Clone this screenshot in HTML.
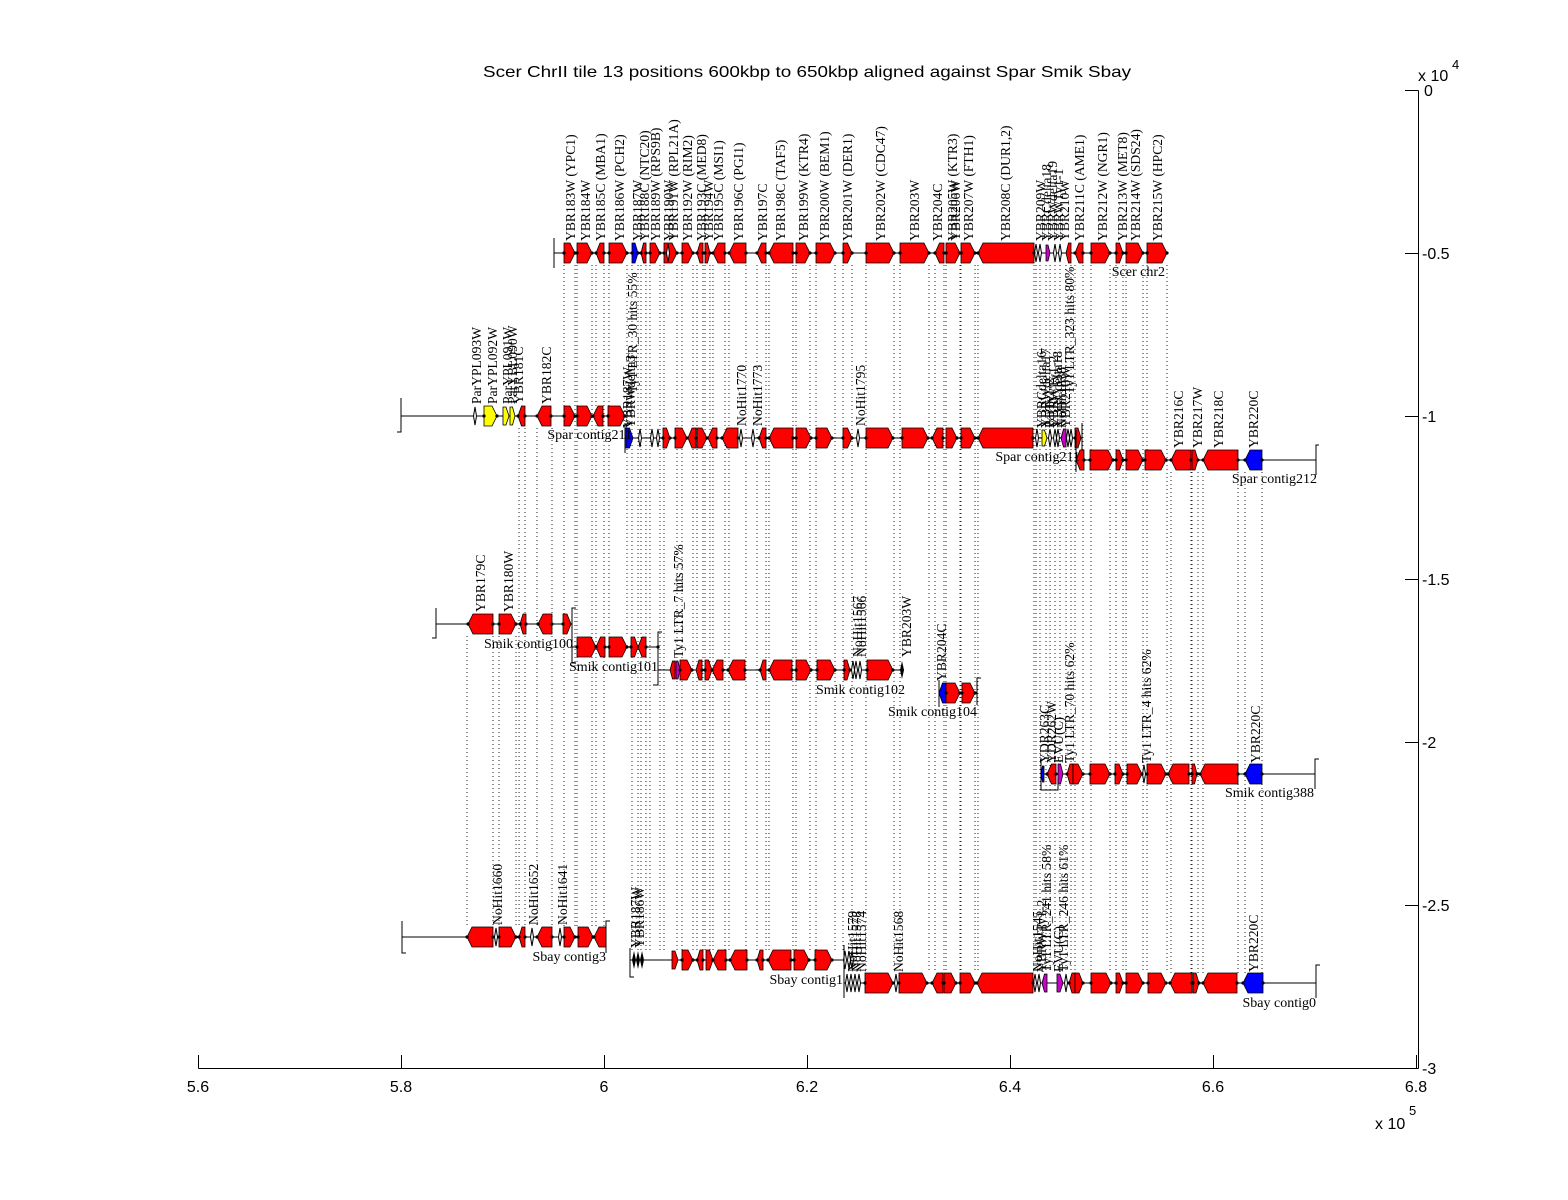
<!DOCTYPE html>
<html><head><meta charset="utf-8"><style>
html,body{margin:0;padding:0;background:#fff}
svg{display:block}
.r{fill:#f00;stroke:#000;stroke-width:.8}
.b{fill:#00f;stroke:#000;stroke-width:.8}
.y{fill:#ff0;stroke:#000;stroke-width:.8}
.p{fill:#c0c;stroke:#000;stroke-width:.8}
.m{fill:#fff;stroke:#000;stroke-width:1}
.k{fill:none;stroke:#000;stroke-width:1}
.d{fill:none;stroke:#000;stroke-width:3.2;stroke-linecap:round}
.lb text{font-family:"Liberation Serif",serif;font-size:13.6px;fill:#000}
.ct{font-family:"Liberation Serif",serif;font-size:14px;fill:#000;text-anchor:end}
.ax{font-family:"Liberation Sans",sans-serif;font-size:16px;fill:#000}
</style></head><body>
<svg width="1568" height="1200" viewBox="0 0 1568 1200" xmlns="http://www.w3.org/2000/svg">
<rect width="1568" height="1200" fill="#fff"/>

<!-- dotted connection lines -->
<path fill="none" stroke="#222" stroke-width="1" stroke-dasharray="1 3" d="
M564 265V927M575 265V927M577 265V927M592 265V927M596 265V927M604 265V927
M609 265V637M627 265V637
M632 265V950M638 265V950M641 265V950M646 265V950M650 265V950M660 265V950M664 265V950M677 265V950M682 265V950M693 265V950M697 265V950M703 265V950M705 265V950M710 265V950M713 265V950M725 265V950M729 265V950M746 265V950M757 265V950M766 265V950M769 265V950M793 265V950M796 265V950M810 265V950M816 265V950M835 265V950M843 265V950M852 265V950
M866 265V973M894 265V973M900 265V973M929 265V973M935 265V973M944 265V973M946 265V973M960 265V973M961 265V973M975 265V973M978 265V973M1034 265V973M1036 265V973M1040 265V973M1046 265V973M1050 265V973M1055 265V973M1060 265V973M1066 265V973M1071 265V973M1075 265V973M1083 265V973M1091 265V973M1110 265V973M1116 265V973M1123 265V973M1126 265V973M1143 265V973M1147 265V973M1167 265V973
M519 428V927M525 428V927M537 428V927M552 428V927
M467 636V927M493 636V927M499 636V927M516 636V927
M1171 472V973M1191 472V973M1192 472V973M1198 472V973M1203 472V973M1238 472V973M1245 472V973M1262 472V973
"/>

<!-- Scer chr2 -->
<g transform="translate(0,253)">
<path class="k" d="M554 0H1168M554 -15V15"/>
<path class="r" d="M564 -10H570L575 0L570 10H564Z"/>
<path class="r" d="M577 -10H587L592 0L587 10H577Z"/>
<path class="r" d="M596 0L600 -10H604V10H600Z"/>
<path class="r" d="M609 -10H622L627 0L622 10H609Z"/>
<path class="b" d="M632 -10H635L638 0L635 10H632Z"/>
<path class="r" d="M641 0L643.5 -10H646V10H643.5Z"/>
<path class="r" d="M650 -10H655L660 0L655 10H650Z"/>
<path class="r" d="M664 -10H672L677 0L672 10H664Z"/>
<path class="m" d="M668 -9l1.5 9l-1.5 9l-1.5 -9z"/>
<path class="r" d="M682 -10H688L693 0L688 10H682Z"/>
<path class="r" d="M697 0L700 -10H703V10H700Z"/>
<path class="r" d="M705 -10H707.5L710 0L707.5 10H705Z"/>
<path class="r" d="M713 0L718 -10H725V10H718Z"/>
<path class="r" d="M729 0L734 -10H746V10H734Z"/>
<path class="r" d="M757 0L761.5 -10H766V10H761.5Z"/>
<path class="r" d="M769 0L774 -10H793V10H774Z"/>
<path class="r" d="M796 -10H805L810 0L805 10H796Z"/>
<path class="r" d="M816 -10H830L835 0L830 10H816Z"/>
<path class="r" d="M843 -10H847.5L852 0L847.5 10H843Z"/>
<path class="r" d="M866 -10H889L894 0L889 10H866Z"/>
<path class="r" d="M900 -10H924L929 0L924 10H900Z"/>
<path class="r" d="M935 0L939.5 -10H944V10H939.5Z"/>
<path class="r" d="M946 -10H955L960 0L955 10H946Z"/>
<path class="r" d="M961 -10H970L975 0L970 10H961Z"/>
<path class="r" d="M978 0L983 -10H1034V10H983Z"/>
<path class="m" d="M1036 -9l1.5 9l-1.5 9l-1.5 -9zM1040 -9l1.5 9l-1.5 9l-1.5 -9zM1055 -9l1.5 9l-1.5 9l-1.5 -9zM1060 -9l1.5 9l-1.5 9l-1.5 -9z"/>
<path class="p" d="M1046 -8H1048L1050 0L1048 8H1046Z"/>
<path class="r" d="M1066 0L1068.5 -10H1071V10H1068.5Z"/>
<path class="r" d="M1075 0L1079 -10H1083V10H1079Z"/>
<path class="r" d="M1091 -10H1105L1110 0L1105 10H1091Z"/>
<path class="r" d="M1116 -10H1119.5L1123 0L1119.5 10H1116Z"/>
<path class="r" d="M1126 -10H1138L1143 0L1138 10H1126Z"/>
<path class="r" d="M1147 -10H1162L1167 0L1162 10H1147Z"/>
<path class="d" d="M564 0h0M575 0h0M577 0h0M592 0h0M596 0h0M604 0h0M609 0h0M627 0h0M632 0h0M638 0h0M641 0h0M646 0h0M650 0h0M660 0h0M664 0h0M677 0h0M682 0h0M693 0h0M697 0h0M703 0h0M705 0h0M710 0h0M713 0h0M725 0h0M729 0h0M746 0h0M757 0h0M766 0h0M769 0h0M793 0h0M796 0h0M810 0h0M816 0h0M835 0h0M843 0h0M852 0h0M866 0h0M894 0h0M900 0h0M929 0h0M935 0h0M944 0h0M946 0h0M960 0h0M961 0h0M975 0h0M978 0h0M1034 0h0M1075 0h0M1083 0h0M1091 0h0M1110 0h0M1116 0h0M1123 0h0M1126 0h0M1143 0h0M1147 0h0M1167 0h0"/>
</g>

<!-- Spar contig211 (a) -->
<g transform="translate(0,416)">
<path class="k" d="M401 0H628M401 -18V16H397"/>
<path class="m" d="M475 -9l1.5 9l-1.5 9l-1.5 -9z"/>
<path class="y" d="M484 -10H492L497 0L492 10H484Z"/>
<path class="y" d="M503 -9H506L509 0L506 9H503Z"/>
<path class="y" d="M510 -9H512.5L515 0L512.5 9H510Z"/>
<path class="r" d="M518 0L521.5 -10H525V10H521.5Z"/>
<path class="r" d="M537 0L542 -10H551V10H542Z"/>
<path class="r" d="M564 -10H570L575 0L570 10H564Z"/>
<path class="r" d="M577 -10H587L592 0L587 10H577Z"/>
<path class="r" d="M593 0L598 -10H603V10H598Z"/>
<path class="r" d="M608 -10H620L625 0L620 10H608Z"/>
<path class="d" d="M484 0h0M497 0h0M518 0h0M525 0h0M537 0h0M551 0h0M564 0h0M575 0h0M577 0h0M592 0h0M593 0h0M603 0h0M608 0h0M625 0h0"/>
</g>

<!-- Spar contig211 (b) -->
<g transform="translate(0,438)">
<path class="k" d="M625 0H1082M625 -15V15M1082 -15V32"/>
<path class="b" d="M626 -10H629.5L633 0L629.5 10H626Z"/>
<path class="m" d="M640 -9l1.5 9l-1.5 9l-1.5 -9zM652 -9l1.5 9l-1.5 9l-1.5 -9zM658 -9l1.5 9l-1.5 9l-1.5 -9zM741 -9l1.5 9l-1.5 9l-1.5 -9zM753 -9l1.5 9l-1.5 9l-1.5 -9zM858 -9l1.5 9l-1.5 9l-1.5 -9z"/>
<path class="r" d="M663 -10H666.5L670 0L666.5 10H663Z"/>
<path class="r" d="M675 -10H682L687 0L682 10H675Z"/>
<path class="r" d="M688 0L692 -10H696V10H692Z"/>
<path class="r" d="M697 -10H702L707 0L702 10H697Z"/>
<path class="r" d="M708 0L712.5 -10H717V10H712.5Z"/>
<path class="r" d="M722 0L727 -10H738V10H727Z"/>
<path class="r" d="M759 0L762.5 -10H766V10H762.5Z"/>
<path class="r" d="M769 0L774 -10H793V10H774Z"/>
<path class="r" d="M796 -10H806L811 0L806 10H796Z"/>
<path class="r" d="M816 -10H827L832 0L827 10H816Z"/>
<path class="r" d="M843 -10H847.5L852 0L847.5 10H843Z"/>
<path class="r" d="M866 -10H888L893 0L888 10H866Z"/>
<path class="r" d="M902 -10H923L928 0L923 10H902Z"/>
<path class="r" d="M932 0L937 -10H943V10H937Z"/>
<path class="r" d="M946 -10H952L957 0L952 10H946Z"/>
<path class="r" d="M961 -10H970L975 0L970 10H961Z"/>
<path class="r" d="M978 0L983 -10H1033V10H983Z"/>
<path class="m" d="M1037 -9l1.5 9l-1.5 9l-1.5 -9zM1050 -9l1.5 9l-1.5 9l-1.5 -9zM1055 -9l1.5 9l-1.5 9l-1.5 -9zM1058 -9l1.5 9l-1.5 9l-1.5 -9zM1068 -9l1.5 9l-1.5 9l-1.5 -9zM1071 -9l1.5 9l-1.5 9l-1.5 -9z"/>
<path class="y" d="M1042 -8H1044.5L1047 0L1044.5 8H1042Z"/>
<path class="p" d="M1061 0L1063.5 -9H1066V9H1063.5Z"/>
<path class="r" d="M1075 -10H1078L1081 0L1078 10H1075Z"/>
<path class="d" d="M663 0h0M670 0h0M675 0h0M687 0h0M696 0h0M707 0h0M717 0h0M722 0h0M738 0h0M759 0h0M766 0h0M769 0h0M793 0h0M796 0h0M811 0h0M816 0h0M832 0h0M843 0h0M852 0h0M866 0h0M893 0h0M902 0h0M928 0h0M932 0h0M943 0h0M957 0h0M961 0h0M975 0h0M978 0h0M1033 0h0M1075 0h0"/>
</g>

<!-- Spar contig212 -->
<g transform="translate(0,460)">
<path class="k" d="M1076 0H1316M1076 -30V12M1319 -15H1316V15"/>
<path class="r" d="M1076 0L1080 -10H1084V10H1080Z"/>
<path class="r" d="M1090 -10H1108L1113 0L1108 10H1090Z"/>
<path class="r" d="M1116 -10H1119.5L1123 0L1119.5 10H1116Z"/>
<path class="r" d="M1126 -10H1138L1143 0L1138 10H1126Z"/>
<path class="r" d="M1145 -10H1161L1166 0L1161 10H1145Z"/>
<path class="r" d="M1171 0L1176 -10H1191V10H1176Z"/>
<path class="r" d="M1192 -10H1195L1198 0L1195 10H1192Z"/>
<path class="r" d="M1203 0L1208 -10H1238V10H1208Z"/>
<path class="b" d="M1245 0L1250 -10H1262V10H1250Z"/>
<path class="d" d="M1084 0h0M1090 0h0M1113 0h0M1116 0h0M1123 0h0M1126 0h0M1143 0h0M1145 0h0M1166 0h0M1171 0h0M1191 0h0M1198 0h0M1203 0h0M1238 0h0M1245 0h0M1262 0h0"/>
</g>

<!-- Smik contig100 -->
<g transform="translate(0,624)">
<path class="k" d="M436 0H572M436 -16V14H432M576 -16H572V16"/>
<path class="r" d="M468 0L473 -10H493V10H473Z"/>
<path class="r" d="M499 -10H511L516 0L511 10H499Z"/>
<path class="r" d="M520 0L523 -10H526V10H523Z"/>
<path class="r" d="M538 0L543 -10H552V10H543Z"/>
<path class="r" d="M563 -10H567L571 0L567 10H563Z"/>
<path class="d" d="M468 0h0M493 0h0M499 0h0M516 0h0M520 0h0M526 0h0M538 0h0M552 0h0M563 0h0"/>
</g>

<!-- Smik contig101 -->
<g transform="translate(0,647)">
<path class="k" d="M572 0H658M572 -8V16H576"/>
<path class="r" d="M577 -10H591L596 0L591 10H577Z"/>
<path class="r" d="M596 0L600.5 -10H605V10H600.5Z"/>
<path class="r" d="M609 -10H622L627 0L622 10H609Z"/>
<path class="r" d="M631 -10H634.5L638 0L634.5 10H631Z"/>
<path class="r" d="M638 0L642 -10H646V10H642Z"/>
<path class="d" d="M577 0h0M596 0h0M605 0h0M609 0h0M627 0h0M631 0h0M646 0h0M658 0h0"/>
</g>

<!-- Smik contig102 -->
<g transform="translate(0,670)">
<path class="k" d="M658 0H904M662 -38H658V15H653"/>
<path class="r" d="M670 0L672.5 -9H675V9H672.5Z"/>
<path class="p" d="M676 -9H678L680 0L678 9H676Z"/>
<path class="r" d="M680 -10H687L692 0L687 10H680Z"/>
<path class="r" d="M696 0L699 -10H702V10H699Z"/>
<path class="r" d="M705 -10H708.5L712 0L708.5 10H705Z"/>
<path class="r" d="M712 0L717 -10H723V10H717Z"/>
<path class="r" d="M728 0L733 -10H745V10H733Z"/>
<path class="r" d="M760 0L763 -10H766V10H763Z"/>
<path class="r" d="M769 0L774 -10H792V10H774Z"/>
<path class="r" d="M796 -10H806L811 0L806 10H796Z"/>
<path class="r" d="M817 -10H830L835 0L830 10H817Z"/>
<path class="r" d="M844 -10H847L850 0L847 10H844Z"/>
<path class="m" d="M853 -9l1.5 9l-1.5 9l-1.5 -9zM856 -9l1.5 9l-1.5 9l-1.5 -9zM860 -9l1.5 9l-1.5 9l-1.5 -9z"/>
<path class="r" d="M867 -10H888L893 0L888 10H867Z"/>
<path d="M902 -9l2 9l-2 9l-2 -9z" fill="#000"/>
<path class="d" d="M680 0h0M692 0h0M702 0h0M705 0h0M712 0h0M723 0h0M728 0h0M745 0h0M760 0h0M769 0h0M792 0h0M796 0h0M811 0h0M817 0h0M835 0h0M844 0h0M850 0h0M867 0h0M893 0h0"/>
</g>

<!-- Smik contig104 -->
<g transform="translate(0,693)">
<path class="k" d="M939 0H977M939 -13V14M981 -15H977V12"/>
<path class="b" d="M939 0L942.5 -10H946V10H942.5Z"/>
<path class="r" d="M946 -10H955L960 0L955 10H946Z"/>
<path class="r" d="M962 -10H970L975 0L970 10H962Z"/>
<path class="d" d="M946 0h0M960 0h0M962 0h0M975 0h0"/>
</g>

<!-- Smik contig388 -->
<g transform="translate(0,774)">
<path class="k" d="M1041 0H1315M1041 -16V16H1058V4M1319 -15H1315V15"/>
<path class="b" d="M1041 0L1042.5 -8H1044V8H1042.5Z"/>
<path class="r" d="M1047 0L1051.5 -10H1056V10H1051.5Z"/>
<path class="p" d="M1058 -10H1060.5L1063 0L1060.5 10H1058Z"/>
<path class="r" d="M1067 0L1070 -10H1073V10H1070Z"/>
<path class="r" d="M1073 -10H1078L1083 0L1078 10H1073Z"/>
<path class="r" d="M1090 -10H1105L1110 0L1105 10H1090Z"/>
<path class="r" d="M1115 -10H1119L1123 0L1119 10H1115Z"/>
<path class="r" d="M1127 -10H1137L1142 0L1137 10H1127Z"/>
<path class="m" d="M1144 -9l1.5 9l-1.5 9l-1.5 -9z"/>
<path class="r" d="M1147 -10H1161L1166 0L1161 10H1147Z"/>
<path class="r" d="M1168 0L1173 -10H1189V10H1173Z"/>
<path class="r" d="M1192 -10H1194.5L1197 0L1194.5 10H1192Z"/>
<path class="r" d="M1200 0L1205 -10H1238V10H1205Z"/>
<path class="b" d="M1245 0L1250 -10H1262V10H1250Z"/>
<path class="d" d="M1047 0h0M1056 0h0M1067 0h0M1083 0h0M1090 0h0M1110 0h0M1115 0h0M1123 0h0M1127 0h0M1142 0h0M1147 0h0M1166 0h0M1168 0h0M1189 0h0M1192 0h0M1197 0h0M1200 0h0M1238 0h0M1245 0h0M1262 0h0"/>
</g>

<!-- Sbay contig3 -->
<g transform="translate(0,937)">
<path class="k" d="M402 0H606M402 -16V16H406M610 -16H606V16"/>
<path class="r" d="M467 0L472 -10H493V10H472Z"/>
<path class="m" d="M496 -9l1.5 9l-1.5 9l-1.5 -9zM532 -9l1.5 9l-1.5 9l-1.5 -9zM560 -9l1.5 9l-1.5 9l-1.5 -9z"/>
<path class="r" d="M499 -10H511L516 0L511 10H499Z"/>
<path class="r" d="M519 0L522 -10H525V10H522Z"/>
<path class="r" d="M537 0L542 -10H552V10H542Z"/>
<path class="r" d="M564 -10H570L575 0L570 10H564Z"/>
<path class="r" d="M578 -10H588L593 0L588 10H578Z"/>
<path class="r" d="M594 0L599 -10H606V10H599Z"/>
<path class="d" d="M467 0h0M493 0h0M499 0h0M516 0h0M519 0h0M525 0h0M537 0h0M552 0h0M564 0h0M575 0h0M578 0h0M593 0h0M594 0h0"/>
</g>

<!-- Sbay contig1 -->
<g transform="translate(0,960)">
<path class="k" d="M630 0H843M630 -12V17H634"/>
<path d="M634 -9l2 9l-2 9l-2 -9zM638 -9l2 9l-2 9l-2 -9zM642 -9l2 9l-2 9l-2 -9z" fill="#000"/>
<path class="r" d="M672 -9H675L678 0L675 9H672Z"/>
<path class="r" d="M682 -10H688L693 0L688 10H682Z"/>
<path class="r" d="M697 0L700 -10H703V10H700Z"/>
<path class="r" d="M706 -10H709.5L713 0L709.5 10H706Z"/>
<path class="r" d="M713 0L718 -10H726V10H718Z"/>
<path class="r" d="M730 0L735 -10H747V10H735Z"/>
<path class="r" d="M757 0L760 -10H763V10H760Z"/>
<path class="r" d="M768 0L773 -10H791V10H773Z"/>
<path class="r" d="M794 -10H804L809 0L804 10H794Z"/>
<path class="r" d="M815 -10H827L832 0L827 10H815Z"/>
<path class="m" d="M845 -9l1.5 9l-1.5 9l-1.5 -9zM849 -9l1.5 9l-1.5 9l-1.5 -9zM852 -9l1.5 9l-1.5 9l-1.5 -9z"/>
<path class="d" d="M682 0h0M693 0h0M697 0h0M703 0h0M713 0h0M726 0h0M730 0h0M747 0h0M757 0h0M763 0h0M768 0h0M791 0h0M794 0h0M809 0h0M815 0h0M832 0h0"/>
</g>

<!-- Sbay contig0 -->
<g transform="translate(0,983)">
<path class="k" d="M844 0H1316M844 -38V15M1320 -18H1316V15"/>
<path class="m" d="M847 -9l1.5 9l-1.5 9l-1.5 -9zM851 -9l1.5 9l-1.5 9l-1.5 -9zM855 -9l1.5 9l-1.5 9l-1.5 -9zM859 -9l1.5 9l-1.5 9l-1.5 -9zM896 -9l1.5 9l-1.5 9l-1.5 -9zM1035 -9l1.5 9l-1.5 9l-1.5 -9zM1039 -9l1.5 9l-1.5 9l-1.5 -9zM1066 -9l1.5 9l-1.5 9l-1.5 -9z"/>
<path class="r" d="M865 -10H888L893 0L888 10H865Z"/>
<path class="r" d="M899 -10H922L927 0L922 10H899Z"/>
<path class="r" d="M932 0L937 -10H943V10H937Z"/>
<path class="r" d="M944 -10H951L956 0L951 10H944Z"/>
<path class="r" d="M960 -10H970L975 0L970 10H960Z"/>
<path class="r" d="M977 0L982 -10H1033V10H982Z"/>
<path class="p" d="M1042 0L1044.5 -9H1047V9H1044.5Z"/>
<path class="p" d="M1057 -9H1060L1063 0L1060 9H1057Z"/>
<path class="r" d="M1069 0L1072 -10H1075V10H1072Z"/>
<path class="r" d="M1075 -10H1079L1083 0L1079 10H1075Z"/>
<path class="r" d="M1091 -10H1106L1111 0L1106 10H1091Z"/>
<path class="r" d="M1116 -10H1119.5L1123 0L1119.5 10H1116Z"/>
<path class="r" d="M1126 -10H1138L1143 0L1138 10H1126Z"/>
<path class="r" d="M1148 -10H1161L1166 0L1161 10H1148Z"/>
<path class="r" d="M1170 0L1175 -10H1192V10H1175Z"/>
<path class="r" d="M1193 -10H1196L1199 0L1196 10H1193Z"/>
<path class="r" d="M1203 0L1208 -10H1237V10H1208Z"/>
<path class="b" d="M1243 0L1248 -10H1263V10H1248Z"/>
<path class="d" d="M865 0h0M893 0h0M899 0h0M927 0h0M932 0h0M943 0h0M944 0h0M956 0h0M960 0h0M975 0h0M977 0h0M1033 0h0M1069 0h0M1083 0h0M1091 0h0M1111 0h0M1116 0h0M1123 0h0M1126 0h0M1143 0h0M1148 0h0M1166 0h0M1170 0h0M1192 0h0M1193 0h0M1199 0h0M1203 0h0M1237 0h0M1243 0h0M1263 0h0"/>
</g>

<!-- gene labels -->
<g class="lb">
<text transform="translate(575,241) rotate(-90)">YBR183W (YPC1)</text>
<text transform="translate(590,241) rotate(-90)">YBR184W</text>
<text transform="translate(605,241) rotate(-90)">YBR185C (MBA1)</text>
<text transform="translate(624,241) rotate(-90)">YBR186W (PCH2)</text>
<text transform="translate(642,241) rotate(-90)">YBR187W</text>
<text transform="translate(649,241) rotate(-90)">YBR188C (NTC20)</text>
<text transform="translate(660,241) rotate(-90)">YBR189W (RPS9B)</text>
<text transform="translate(673,241) rotate(-90)">YBR190W</text>
<text transform="translate(678,241) rotate(-90)">YBR191W (RPL21A)</text>
<text transform="translate(692,241) rotate(-90)">YBR192W (RIM2)</text>
<text transform="translate(706,241) rotate(-90)">YBR193C (MED8)</text>
<text transform="translate(713,241) rotate(-90)">YBR194W</text>
<text transform="translate(723,241) rotate(-90)">YBR195C (MSI1)</text>
<text transform="translate(743,241) rotate(-90)">YBR196C (PGI1)</text>
<text transform="translate(767,241) rotate(-90)">YBR197C</text>
<text transform="translate(785,241) rotate(-90)">YBR198C (TAF5)</text>
<text transform="translate(808,241) rotate(-90)">YBR199W (KTR4)</text>
<text transform="translate(829,241) rotate(-90)">YBR200W (BEM1)</text>
<text transform="translate(852,241) rotate(-90)">YBR201W (DER1)</text>
<text transform="translate(885,241) rotate(-90)">YBR202W (CDC47)</text>
<text transform="translate(919,241) rotate(-90)">YBR203W</text>
<text transform="translate(942,241) rotate(-90)">YBR204C</text>
<text transform="translate(957,241) rotate(-90)">YBR205W (KTR3)</text>
<text transform="translate(960,241) rotate(-90)">YBR206W</text>
<text transform="translate(973,241) rotate(-90)">YBR207W (FTH1)</text>
<text transform="translate(1010,241) rotate(-90)">YBR208C (DUR1,2)</text>
<text transform="translate(1045,241) rotate(-90)">YBR209W</text>
<text transform="translate(1051,241) rotate(-90)">YBRCdelta18</text>
<text transform="translate(1057,241) rotate(-90)">YBRWdelta19</text>
<text transform="translate(1063,241) rotate(-90)">YBRWTy1-1</text>
<text transform="translate(1069,241) rotate(-90)">YBR210W</text>
<text transform="translate(1084,241) rotate(-90)">YBR211C (AME1)</text>
<text transform="translate(1107,241) rotate(-90)">YBR212W (NGR1)</text>
<text transform="translate(1127,241) rotate(-90)">YBR213W (MET8)</text>
<text transform="translate(1140,241) rotate(-90)">YBR214W (SDS24)</text>
<text transform="translate(1162,241) rotate(-90)">YBR215W (HPC2)</text>

<text transform="translate(481,404) rotate(-90)">ParYPL093W</text>
<text transform="translate(497,404) rotate(-90)">ParYPL092W</text>
<text transform="translate(512,404) rotate(-90)">ParYPL091W</text>
<text transform="translate(517,404) rotate(-90)">ParYBL090W</text>
<text transform="translate(523,404) rotate(-90)">YBR181C</text>
<text transform="translate(551,404) rotate(-90)">YBR182C</text>

<text transform="translate(632,428) rotate(-90)">YBR187W</text>
<text transform="translate(635,428) rotate(-90)">YBRWdelta3</text>
<text transform="translate(637,393) rotate(-90)">Ty1 LTR_30 hits 55%</text>
<text transform="translate(746,426) rotate(-90)">NoHit1770</text>
<text transform="translate(762,426) rotate(-90)">NoHit1773</text>
<text transform="translate(865,426) rotate(-90)">NoHit1795</text>
<text transform="translate(1046,428) rotate(-90)">YBRCdelta16</text>
<text transform="translate(1050,428) rotate(-90)">YBRWdelta17</text>
<text transform="translate(1054,428) rotate(-90)">ParTy1-2</text>
<text transform="translate(1058,428) rotate(-90)">YBRWTy1-2</text>
<text transform="translate(1062,428) rotate(-90)">YBRCdelta18</text>
<text transform="translate(1066,428) rotate(-90)">NoHit1838</text>
<text transform="translate(1070,428) rotate(-90)">YBR210W</text>
<text transform="translate(1074,394) rotate(-90)">Ty1 LTR_323 hits 80%</text>

<text transform="translate(1183,448) rotate(-90)">YBR216C</text>
<text transform="translate(1202,448) rotate(-90)">YBR217W</text>
<text transform="translate(1223,448) rotate(-90)">YBR218C</text>
<text transform="translate(1258,448) rotate(-90)">YBR220C</text>

<text transform="translate(485,612) rotate(-90)">YBR179C</text>
<text transform="translate(513,612) rotate(-90)">YBR180W</text>
<text transform="translate(683,658) rotate(-90)">Ty1 LTR_7 hits 57%</text>
<text transform="translate(862,657) rotate(-90)">NoHit1567</text>
<text transform="translate(866,657) rotate(-90)">NoHit1566</text>
<text transform="translate(911,657) rotate(-90)">YBR203W</text>
<text transform="translate(946,681) rotate(-90)">YBR204C</text>

<text transform="translate(1049,763) rotate(-90)">YDR263C</text>
<text transform="translate(1056,763) rotate(-90)">YDR262W</text>
<text transform="translate(1063,763) rotate(-90)">EVU(C)</text>
<text transform="translate(1074,763) rotate(-90)">Ty1 LTR_70 hits 62%</text>
<text transform="translate(1151,763) rotate(-90)">Ty1 LTR_4 hits 62%</text>
<text transform="translate(1260,763) rotate(-90)">YBR220C</text>

<text transform="translate(502,925) rotate(-90)">NoHit1660</text>
<text transform="translate(538,925) rotate(-90)">NoHit1652</text>
<text transform="translate(567,925) rotate(-90)">NoHit1641</text>
<text transform="translate(640,948) rotate(-90)">YBR187W</text>
<text transform="translate(644,948) rotate(-90)">YBR186W</text>
<text transform="translate(857,972) rotate(-90)">NoHit1579</text>
<text transform="translate(861,972) rotate(-90)">NoHit1578</text>
<text transform="translate(866,972) rotate(-90)">NoHit1574</text>
<text transform="translate(903,972) rotate(-90)">NoHit1568</text>
<text transform="translate(1042,972) rotate(-90)">NoHit1545</text>
<text transform="translate(1046,972) rotate(-90)">YBRWTy1-2</text>
<text transform="translate(1051,972) rotate(-90)">Ty1 LTR_241 hits 58%</text>
<text transform="translate(1063,972) rotate(-90)">EVU(C)</text>
<text transform="translate(1068,972) rotate(-90)">Ty1 LTR_246 hits 61%</text>
<text transform="translate(1258,972) rotate(-90)">YBR220C</text>
</g>

<!-- contig names -->
<text class="ct" x="1165" y="276">Scer chr2</text>
<text class="ct" x="632" y="439">Spar contig211</text>
<text class="ct" x="1080" y="461">Spar contig211</text>
<text class="ct" x="1317" y="483">Spar contig212</text>
<text class="ct" x="573" y="648">Smik contig100</text>
<text class="ct" x="658" y="671">Smik contig101</text>
<text class="ct" x="905" y="694">Smik contig102</text>
<text class="ct" x="977" y="716">Smik contig104</text>
<text class="ct" x="1314" y="797">Smik contig388</text>
<text class="ct" x="606" y="961">Sbay contig3</text>
<text class="ct" x="843" y="984">Sbay contig1</text>
<text class="ct" x="1316" y="1007">Sbay contig0</text>

<!-- axes -->
<path class="k" d="M198.5 1068.5H1417.5M198.5 1068.5V1055M401.5 1068.5V1055M604.5 1068.5V1055M807.5 1068.5V1055M1010.5 1068.5V1055M1213.5 1068.5V1055M1416.5 1068.5V1055"/>
<path class="k" d="M1418.5 90.5V1068.5M1405 90.5H1418.5M1405 253.5H1418.5M1405 416.5H1418.5M1405 579.5H1418.5M1405 742.5H1418.5M1405 905.5H1418.5M1405 1068.5H1418.5"/>
<g class="ax" text-anchor="middle">
<text x="198" y="1092">5.6</text>
<text x="401" y="1092">5.8</text>
<text x="604" y="1092">6</text>
<text x="807" y="1092">6.2</text>
<text x="1010" y="1092">6.4</text>
<text x="1213" y="1092">6.6</text>
<text x="1416" y="1092">6.8</text>
</g>
<g class="ax">
<text x="1424" y="96">0</text>
<text x="1422" y="259">-0.5</text>
<text x="1422" y="422">-1</text>
<text x="1422" y="585">-1.5</text>
<text x="1422" y="748">-2</text>
<text x="1422" y="911">-2.5</text>
<text x="1422" y="1074">-3</text>
<text x="1418" y="81">x 10</text>
<text x="1452" y="69" style="font-size:13px">4</text>
<text x="1375" y="1129">x 10</text>
<text x="1409" y="1115" style="font-size:13px">5</text>
<text x="807" y="77" text-anchor="middle" textLength="648" lengthAdjust="spacingAndGlyphs">Scer ChrII tile 13 positions 600kbp to 650kbp aligned against Spar Smik Sbay</text>
</g>
</svg>
</body></html>
